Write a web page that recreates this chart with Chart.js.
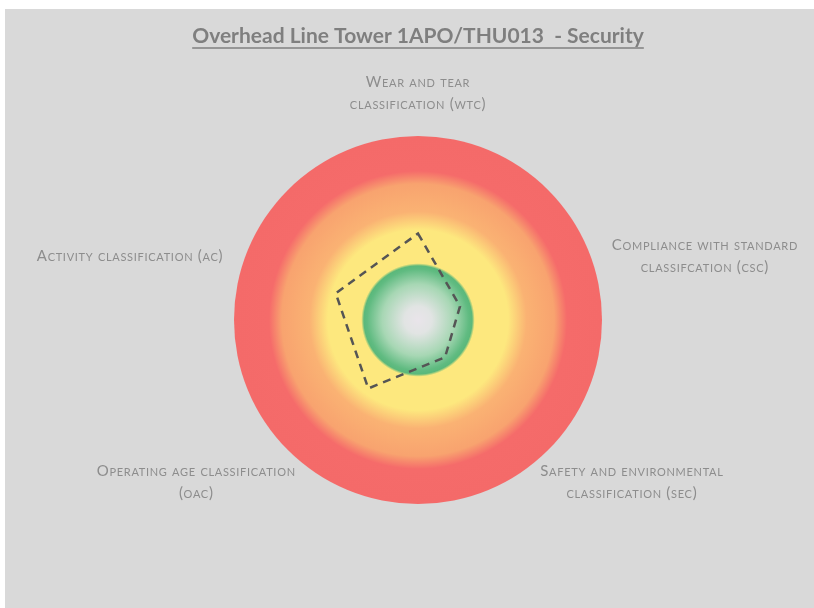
<!DOCTYPE html>
<html>
<head>
<meta charset="utf-8">
<title>Overhead Line Tower 1APO/THU013 - Security</title>
<script src="https://cdn.jsdelivr.net/npm/chart.js@4/dist/chart.umd.min.js"></script>
<style>
  html, body { margin: 0; padding: 0; background: #fff; }
  #panel { position: absolute; left: 5px; top: 9px; width: 809px; height: 599px; background: #d9d9d9; }
  canvas { display: block; }
</style>
</head>
<body>
<div id="panel"><canvas id="radar" width="809" height="599"></canvas></div>
<script>
// classification axes, clockwise from the top
const TITLE = 'Overhead Line Tower 1APO/THU013  - Security';
const AXIS_LABELS = [
  ['Wear and tear', 'classification (wtc)'],
  ['Compliance with standard', 'classifcation (csc)'],
  ['Safety and environmental', 'classification (sec)'],
  ['Operating age classification', '(oac)'],
  ['Activity classification (ac)']
];
const SCORES = [47, 24, 25, 46, 47];
const SCALE_MAX = 100;

// risk zones painted behind the polygon (upper bound on the score scale)
const ZONE_LIMITS = [30, 52, 78, 100];

// label placement
const LABEL_GAP = 24;
const LABEL_LINE = 22;
const LABEL_NUDGE = [[0, 3], [-4, 0], [0, -6], [0, -6], [3, 0]];

const zoneBackdrop = {
  id: 'zoneBackdrop',
  beforeDatasetsDraw(chart) {
    const r = chart.scales.r, ctx = chart.ctx;
    const R = r.drawingArea;
    const f = v => r.getDistanceFromCenterForValue(v) / R;
    const [green, yellow, orange] = ZONE_LIMITS.map(f);
    const g = ctx.createRadialGradient(r.xCenter, r.yCenter, 0, r.xCenter, r.yCenter, R);
    g.addColorStop(0, '#e9e4ea');
    g.addColorStop(green * 0.25, '#e1e4e3');
    g.addColorStop(green * 0.65, '#a7d7b4');
    g.addColorStop(green * 0.92, '#60bb81');
    g.addColorStop(green - 0.006, '#5ab87b');
    g.addColorStop(green + 0.008, '#fde87e');
    g.addColorStop(yellow - 0.03, '#fde87e');
    g.addColorStop(yellow + 0.07, '#fab273');
    g.addColorStop(orange - 0.04, '#f8a36f');
    g.addColorStop(orange + 0.03, '#f56b6a');
    g.addColorStop(1, '#f46a69');
    ctx.save();
    ctx.beginPath();
    ctx.arc(r.xCenter, r.yCenter, R, 0, Math.PI * 2);
    ctx.fillStyle = g;
    ctx.fill();
    ctx.restore();
  }
};

const axisLabels = {
  id: 'axisLabels',
  afterDraw(chart) {
    const r = chart.scales.r, ctx = chart.ctx;
    ctx.save();
    ctx.font = 'small-caps 400 15px Lato';
    ctx.fontVariantCaps = 'small-caps';
    ctx.letterSpacing = '0.7px';
    ctx.fillStyle = '#8d8d8d';
    ctx.textBaseline = 'middle';
    ctx.textAlign = 'center';
    chart.data.labels.forEach((lines, i) => {
      const p = r.getPointPosition(i, r.drawingArea + LABEL_GAP);
      const w = Math.max(...lines.map(t => ctx.measureText(t).width));
      const h = lines.length * LABEL_LINE;
      const dx = p.x - r.xCenter;
      let cx, top;
      if (Math.abs(dx) < 1) { cx = p.x; top = p.y - h; }
      else if (dx > 0) { cx = p.x + w / 2; top = p.y - h / 2; }
      else { cx = p.x - w / 2; top = p.y - h / 2; }
      cx += LABEL_NUDGE[i][0];
      top += LABEL_NUDGE[i][1];
      lines.forEach((t, k) => ctx.fillText(t, cx, top + LABEL_LINE * (k + 0.5)));
    });
    ctx.restore();
  }
};

// Chart.js titles have no underline, so add one under the text
const titleUnderline = {
  id: 'titleUnderline',
  afterDraw(chart) {
    const tb = chart.titleBlock;
    if (!tb) return;
    const opts = chart.options.plugins.title;
    const ctx = chart.ctx;
    ctx.save();
    ctx.font = `bold ${opts.font.size}px ${opts.font.family}`;
    const w = ctx.measureText(TITLE).width;
    const cx = tb.left + tb.width / 2;
    const y = tb.top + opts.padding.top + opts.font.size * 0.6 + 11.5;
    ctx.strokeStyle = opts.color;
    ctx.lineWidth = 1.5;
    ctx.beginPath();
    ctx.moveTo(cx - w / 2, y);
    ctx.lineTo(cx + w / 2, y);
    ctx.stroke();
    ctx.restore();
  }
};

new Chart(document.getElementById('radar'), {
  type: 'radar',
  data: {
    labels: AXIS_LABELS,
    datasets: [{
      data: SCORES,
      borderColor: '#555555',
      borderWidth: 2.5,
      borderDash: [8, 6],
      borderJoinStyle: 'miter',
      fill: false,
      pointRadius: 0,
      tension: 0
    }]
  },
  options: {
    responsive: false,
    devicePixelRatio: 1,
    animation: false,
    // keeps the title full width while the radar sits in a 370px square
    layout: { padding: { left: 17, right: 0, top: 0, bottom: 103 } },
    scales: {
      r: {
        min: 0, max: SCALE_MAX,
        ticks: { display: false },
        grid: { display: false },
        angleLines: { display: false },
        pointLabels: { display: false }
      }
    },
    plugins: {
      legend: { display: false },
      tooltip: { enabled: false },
      title: {
        display: true,
        text: TITLE,
        color: '#7f7f7f',
        font: { family: 'Lato', size: 21, weight: 'bold' },
        padding: { top: 15, bottom: 86 }
      }
    }
  },
  plugins: [zoneBackdrop, axisLabels, titleUnderline]
});
</script>
</body>
</html>
